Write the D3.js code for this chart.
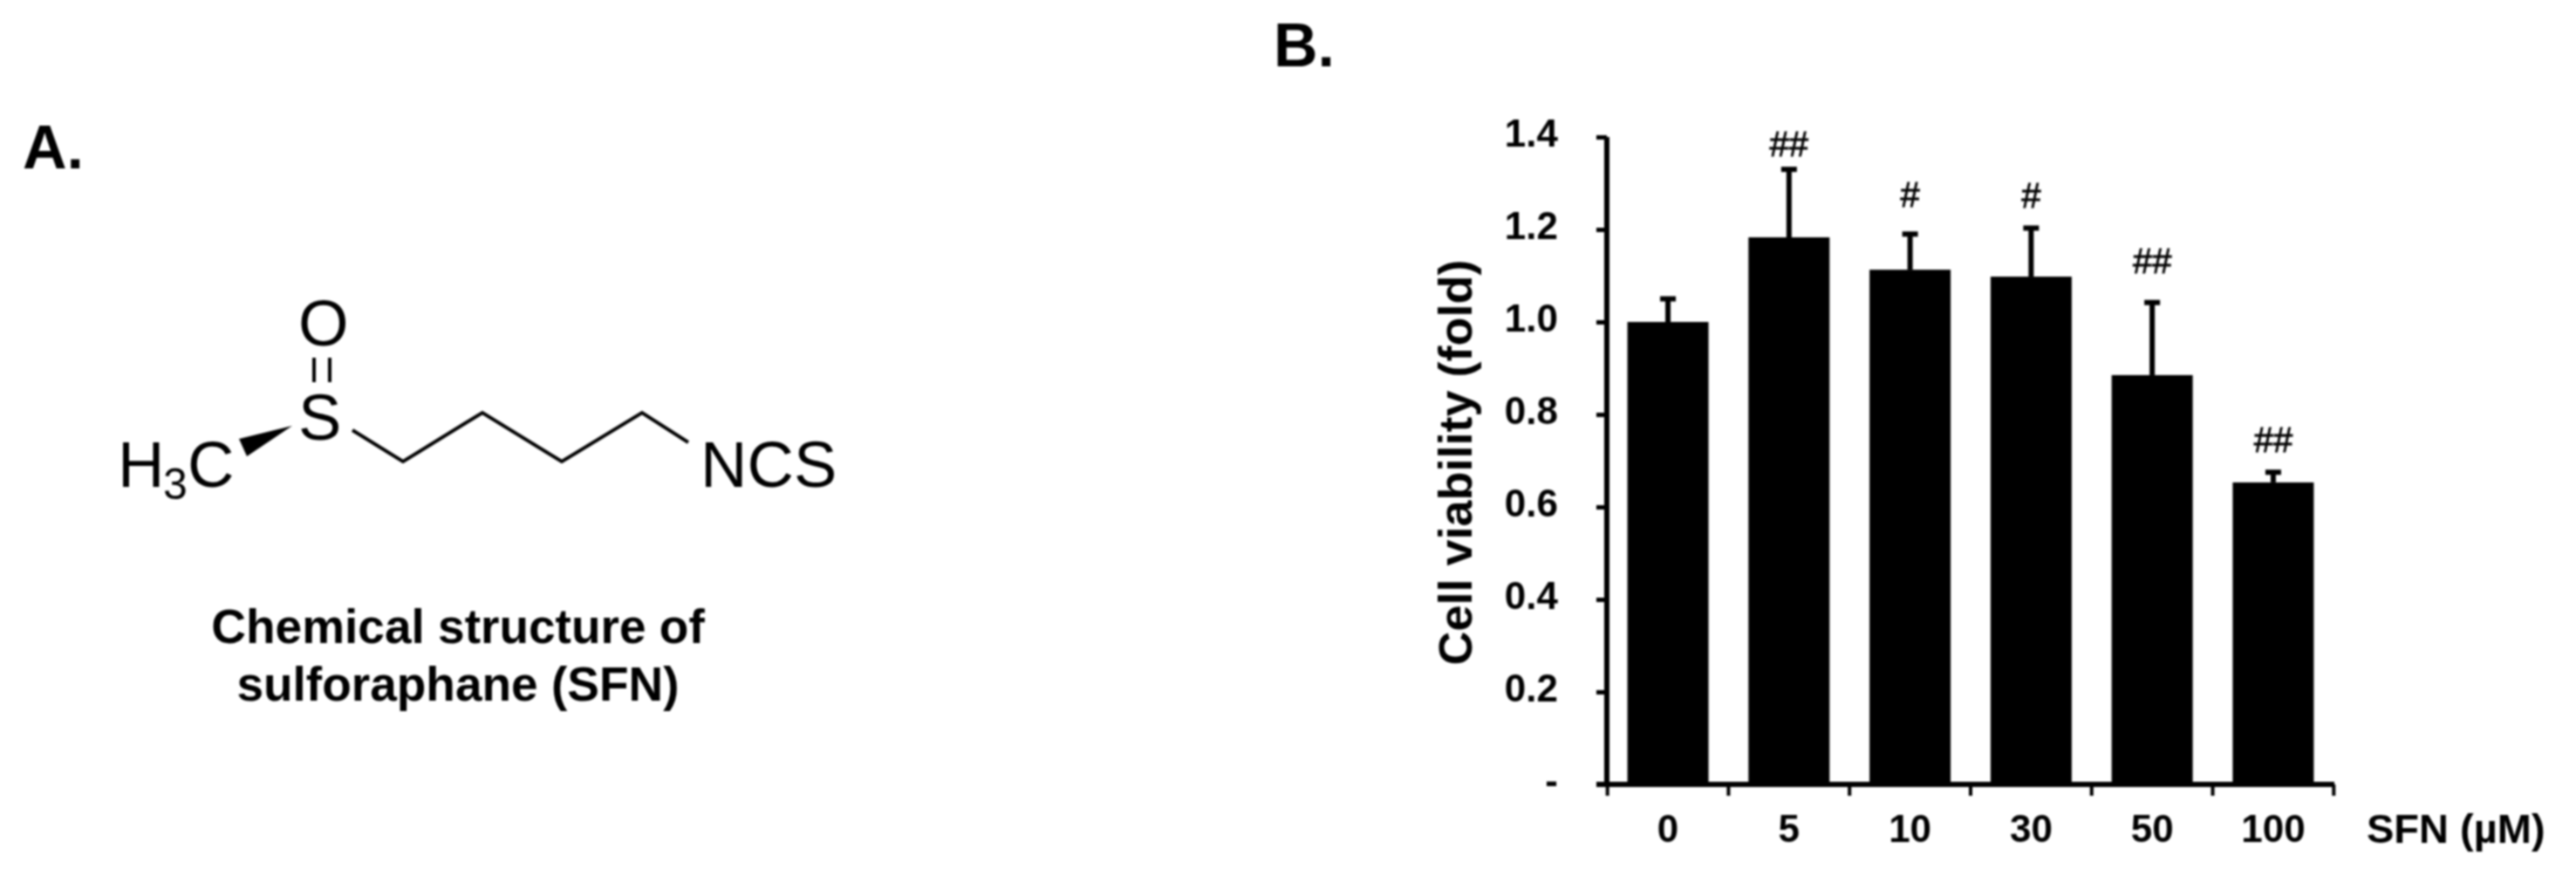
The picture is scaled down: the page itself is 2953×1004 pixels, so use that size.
<!DOCTYPE html>
<html>
<head>
<meta charset="utf-8">
<script src="https://cdn.jsdelivr.net/npm/d3@7"></script>
<style>
  body { margin: 0; background: #fff; }
  text { font-family: "Liberation Sans", Arial, sans-serif; fill: #000; }
</style>
</head>
<body>
<script>
// Valores
var categories = ["0", "5", "10", "30", "50", "100"];
var viability = [1.0, 1.183, 1.113, 1.098, 0.885, 0.653];
var errorTop = [1.05, 1.33, 1.19, 1.203, 1.042, 0.675];
var significance = ["", "##", "#", "#", "##", "##"];
var yTicks = [0, 0.2, 0.4, 0.6, 0.8, 1.0, 1.2, 1.4];

var W = 2953, H = 1004;

var svg = d3.select("body").append("svg")
    .attr("width", W)
    .attr("height", H)
    .style("display", "block");

// Ligero desenfoque, la figura original es una imagen escalada
svg.append("defs").append("filter")
    .attr("id", "soft")
    .append("feGaussianBlur")
    .attr("stdDeviation", 0.9);

var root = svg.append("g").attr("filter", "url(#soft)");

// Letras de los paneles
root.append("text").attr("x", 26).attr("y", 193)
    .attr("font-size", 70).attr("font-weight", "bold").text("A.");
root.append("text").attr("x", 1460).attr("y", 76)
    .attr("font-size", 70).attr("font-weight", "bold").text("B.");

// ---------- Panel A: estructura quimica ----------
var mol = root.append("g");
var bond = d3.line();

function atom(x, y, label, size) {
    return mol.append("text")
        .attr("x", x).attr("y", y)
        .attr("font-size", size)
        .text(label);
}

atom(135, 558, "H", 74);
atom(187, 572, "3", 50);
atom(215, 558, "C", 74);
atom(342, 504, "S", 74);
atom(342, 396, "O", 74);
atom(803, 558, "NCS", 74);

// doble enlace S=O
[360, 378].forEach(function(x) {
    mol.append("path")
        .attr("d", bond([[x, 410], [x, 438]]))
        .attr("stroke", "#000").attr("stroke-width", 4).attr("fill", "none");
});

// cadena de carbonos
mol.append("path")
    .attr("d", bond([[404, 493], [462, 529], [553, 473], [644, 529], [736, 473], [789, 507]]))
    .attr("stroke", "#000").attr("stroke-width", 4).attr("fill", "none");

// enlace en cuña
mol.append("path")
    .attr("d", bond([[335, 488], [274, 503], [283, 523]]) + "Z")
    .attr("fill", "#000");

root.append("text").attr("x", 525).attr("y", 737)
    .attr("text-anchor", "middle").attr("font-size", 55).attr("font-weight", "bold")
    .text("Chemical structure of");
root.append("text").attr("x", 525).attr("y", 803)
    .attr("text-anchor", "middle").attr("font-size", 55).attr("font-weight", "bold")
    .text("sulforaphane (SFN)");

// ---------- Panel B: barras ----------
var xScale = d3.scaleBand()
    .domain(categories)
    .range([1842, 2676])
    .paddingInner(0.33)
    .paddingOuter(0.17);

var yScale = d3.scaleLinear()
    .domain([0, 1.4])
    .range([899, 157]);

var chart = root.append("g");

// Barras
chart.selectAll("rect.bar")
    .data(categories)
    .enter()
    .append("rect")
    .attr("class", "bar")
    .attr("x", function(d) { return xScale(d); })
    .attr("y", function(d, i) { return yScale(viability[i]); })
    .attr("width", xScale.bandwidth())
    .attr("height", function(d, i) { return yScale(0) - yScale(viability[i]); })
    .attr("fill", "#000");

// Barras de error
chart.selectAll("line.err")
    .data(categories)
    .enter()
    .append("line")
    .attr("class", "err")
    .attr("x1", function(d) { return xScale(d) + xScale.bandwidth() / 2; })
    .attr("x2", function(d) { return xScale(d) + xScale.bandwidth() / 2; })
    .attr("y1", function(d, i) { return yScale(viability[i]); })
    .attr("y2", function(d, i) { return yScale(errorTop[i]); })
    .attr("stroke", "#000")
    .attr("stroke-width", 6);

chart.selectAll("line.cap")
    .data(categories)
    .enter()
    .append("line")
    .attr("class", "cap")
    .attr("x1", function(d) { return xScale(d) + xScale.bandwidth() / 2 - 9; })
    .attr("x2", function(d) { return xScale(d) + xScale.bandwidth() / 2 + 9; })
    .attr("y1", function(d, i) { return yScale(errorTop[i]); })
    .attr("y2", function(d, i) { return yScale(errorTop[i]); })
    .attr("stroke", "#000")
    .attr("stroke-width", 6);

// Marcas de significancia, separacion sobre la barra de error en px
var sigGap = [0, 15, 31, 23, 34, 23];
chart.selectAll("text.sig")
    .data(categories)
    .enter()
    .append("text")
    .attr("class", "sig")
    .attr("x", function(d) { return xScale(d) + xScale.bandwidth() / 2; })
    .attr("y", function(d, i) { return yScale(errorTop[i]) - sigGap[i]; })
    .attr("text-anchor", "middle")
    .attr("font-size", 40)
    .attr("stroke", "#000")
    .attr("stroke-width", 0.8)
    .text(function(d, i) { return significance[i]; });

// Eje Y
var yAxis = d3.axisLeft(yScale)
    .tickValues(yTicks)
    .tickSize(12)
    .tickPadding(44)
    .tickFormat(function(d) { return d === 0 ? "-" : d.toFixed(1); });

var yG = chart.append("g")
    .attr("transform", "translate(1842,0)")
    .call(yAxis);
yG.select(".domain").attr("stroke-width", 6).attr("d", "M0," + yScale(0) + "V" + yScale(1.4));
yG.selectAll(".tick line").attr("stroke-width", 5);
yG.selectAll(".tick text")
    .attr("font-family", "Liberation Sans")
    .attr("font-size", 44)
    .attr("font-weight", "bold")
    .attr("dy", ".24em");

// Eje X: etiquetas centradas, marcas entre categorias
var xAxis = d3.axisBottom(xScale).tickSize(0).tickPadding(35);
var xG = chart.append("g")
    .attr("transform", "translate(0," + yScale(0) + ")")
    .call(xAxis);
xG.select(".domain").attr("stroke-width", 6).attr("d", "M1830,0H2676");
xG.selectAll(".tick text")
    .attr("font-family", "Liberation Sans")
    .attr("font-size", 44)
    .attr("font-weight", "bold");

var step = xScale.step();
var edges = [xScale(categories[0]) - (step - xScale.bandwidth()) * 0.5].concat(categories.map(function(d) {
    return xScale(d) + xScale.bandwidth() + (step - xScale.bandwidth()) / 2;
}));
xG.selectAll("line.edge")
    .data(edges)
    .enter()
    .append("line")
    .attr("class", "edge")
    .attr("x1", function(d) { return d; })
    .attr("x2", function(d) { return d; })
    .attr("y1", 0)
    .attr("y2", 13)
    .attr("stroke", "#000")
    .attr("stroke-width", 4);

// Titulos de los ejes
chart.append("text")
    .attr("x", 2713).attr("y", 966)
    .attr("font-size", 47).attr("font-weight", "bold")
    .text("SFN (µM)");

chart.append("text")
    .attr("transform", "translate(1687,530) rotate(-90)")
    .attr("text-anchor", "middle")
    .attr("font-size", 54)
    .attr("font-weight", "bold")
    .text("Cell viability (fold)");
</script>
</body>
</html>
